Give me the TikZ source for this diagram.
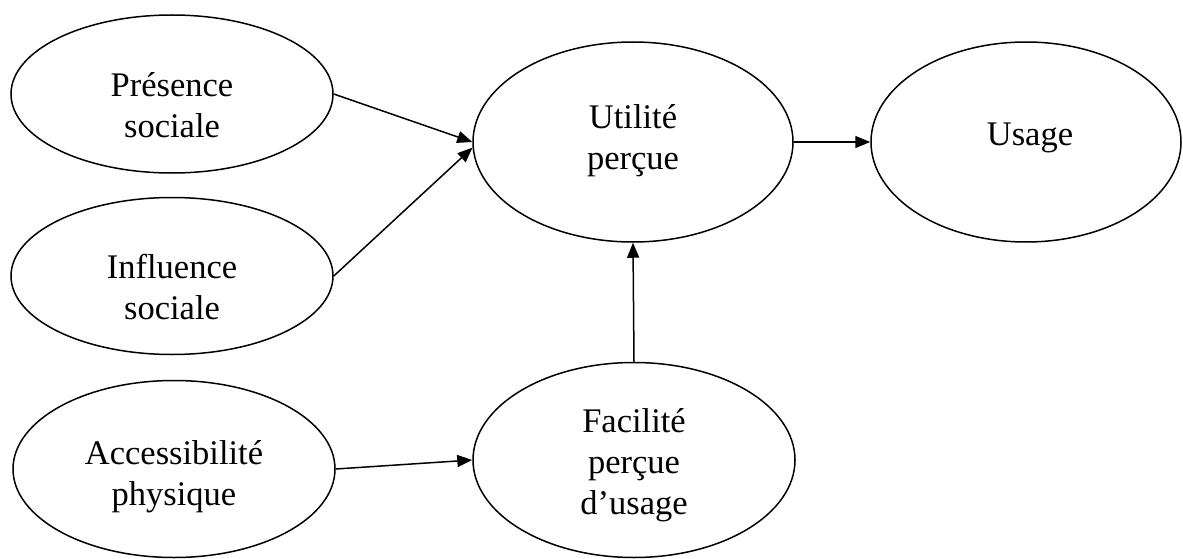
\documentclass[tikz,border=0pt]{standalone}
\usepackage{fontspec}
\setmainfont{Liberation Serif}
\usetikzlibrary{shapes.geometric,arrows.meta}
\begin{document}
\begin{tikzpicture}[x=1pt,y=-1pt,
  ell/.style={draw, ellipse, line width=1.5pt, inner sep=0pt},
  txt/.style={align=center, font=\fontsize{34.5}{41}\selectfont, inner sep=0pt},
  arr/.style={line width=1.5pt, -{Triangle[length=15pt,width=12pt]}}]
\useasboundingbox (0,0) rectangle (1183,559);
\node[ell, minimum width=322pt, minimum height=158pt] (pres) at (172,94) {};
\node[ell, minimum width=322pt, minimum height=157pt] (infl) at (172,276) {};
\node[ell, minimum width=322pt, minimum height=177pt] (acc) at (174,469) {};
\node[ell, minimum width=320pt, minimum height=200pt] (util) at (633,142) {};
\node[ell, minimum width=310pt, minimum height=200pt] (usage) at (1026,142) {};
\node[ell, minimum width=322pt, minimum height=195pt] (fac) at (634,460) {};
\node[txt] (tpres) at (172,105) {Présence\\sociale};
\node[txt] (tinfl) at (172,287) {Influence\\sociale};
\node[txt] (tacc) at (174,477) {Accessibilité\\physique};
\node[txt] (tutil) at (633,141) {Utilité\\perçue};
\node[txt] (tusage) at (1030,138) {Usage};
\node[txt] (tfac) at (634,465) {Facilité\\perçue\\d’usage};
\draw[arr] (pres.east) -- (util.west);
\draw[arr] (infl.east) -- (util.182);
\draw[arr] (acc.east) -- (fac.west);
\draw[arr] (fac.north) -- (util.south);
\draw[arr] (util.east) -- (usage.west);
\end{tikzpicture}
\end{document}
